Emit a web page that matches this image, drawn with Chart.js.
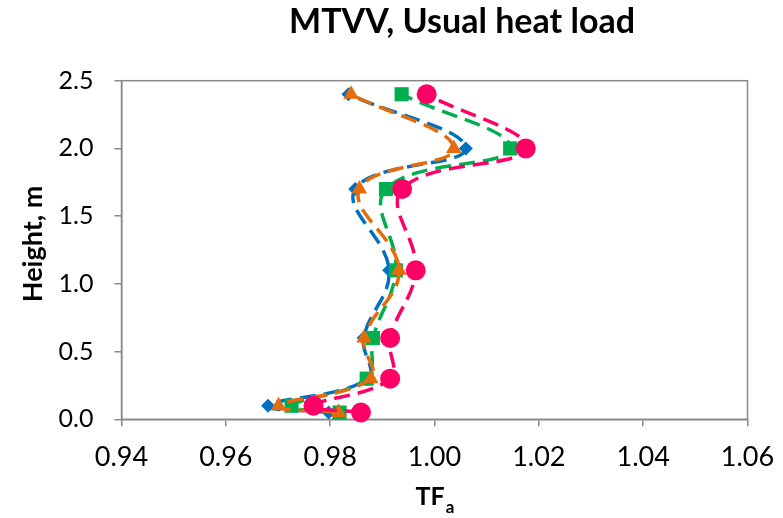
<!DOCTYPE html>
<html>
<head>
<meta charset="utf-8">
<script src="https://cdn.jsdelivr.net/npm/chart.js@4.4.1/dist/chart.umd.min.js"></script>
<style>
  html, body { margin: 0; padding: 0; background: #fff; }
  #wrap { width: 783px; height: 518px; }
</style>
</head>
<body>
<div id="wrap"><canvas id="chart" width="783" height="518"></canvas></div>
<script>
// measuring heights, m
const heights = [0.05, 0.1, 0.3, 0.6, 1.1, 1.7, 2.0, 2.4];

// TF_a profiles, one per case
const tfCase1 = [0.9797, 0.9681, 0.9872, 0.9864, 0.9913, 0.9848, 1.0060, 0.9835];
const tfCase2 = [0.9816, 0.9701, 0.9878, 0.9865, 0.9932, 0.9856, 1.0037, 0.9840];
const tfCase3 = [0.9818, 0.9726, 0.9870, 0.9882, 0.9926, 0.9907, 1.0145, 0.9937];
const tfCase4 = [0.9859, 0.9768, 0.9915, 0.9915, 0.9964, 0.9938, 1.0175, 0.9985];

const xTicks = [0.94, 0.96, 0.98, 1.00, 1.02, 1.04, 1.06];
const yTicks = [0.0, 0.5, 1.0, 1.5, 2.0, 2.5];

const chartTitle = 'MTVV, Usual heat load';
const xTitle = 'TF';
const xTitleSub = 'a';
const yTitle = 'Height, m';

const FONT = 'Lato, "Open Sans", sans-serif';
const AXIS_GREY = '#898989';

function profile(label, xs, color, style, radius, order) {
  return {
    label: label,
    data: xs.map((x, i) => ({ x: x, y: heights[i] })),
    showLine: true,
    borderColor: color,
    backgroundColor: color,
    borderWidth: 3.5,
    borderDash: [16, 8],
    tension: 0.4,
    pointStyle: style,
    pointRadius: radius,
    pointBorderWidth: 0,
    pointBackgroundColor: color,
    clip: false,
    order: order
  };
}

// frame round the plot area and the hand-set titles
const decorations = {
  id: 'decorations',
  beforeDatasetsDraw(chart) {
    const { ctx, chartArea: a } = chart;
    ctx.save();
    ctx.strokeStyle = AXIS_GREY;
    ctx.lineWidth = 1.5;
    ctx.strokeRect(a.left, a.top, a.right - a.left, a.bottom - a.top);
    ctx.restore();
  },
  afterDraw(chart) {
    const { ctx, chartArea: a } = chart;
    ctx.save();
    ctx.fillStyle = '#000';
    ctx.textBaseline = 'alphabetic';

    ctx.font = 'bold 34px ' + FONT;
    ctx.textAlign = 'center';
    ctx.fillText(chartTitle, 462, 33);

    // x title with subscript
    ctx.font = 'bold 25px ' + FONT;
    const wMain = ctx.measureText(xTitle).width;
    ctx.font = 'bold 17px ' + FONT;
    const wSub = ctx.measureText(xTitleSub).width;
    const x0 = (a.left + a.right) / 2 - (wMain + wSub) / 2;
    ctx.textAlign = 'left';
    ctx.font = 'bold 25px ' + FONT;
    ctx.fillText(xTitle, x0, 505);
    ctx.font = 'bold 17px ' + FONT;
    ctx.fillText(xTitleSub, x0 + wMain + 1, 513);

    // y title
    ctx.translate(42, (a.top + a.bottom) / 2 - 6);
    ctx.rotate(-Math.PI / 2);
    ctx.textAlign = 'center';
    ctx.font = 'bold 27px ' + FONT;
    ctx.fillText(yTitle, 0, 0);
    ctx.restore();
  }
};

new Chart(document.getElementById('chart'), {
  type: 'scatter',
  data: {
    datasets: [
      profile('Case 1', tfCase1, '#0070C0', 'rectRot', 7, 3),
      profile('Case 2', tfCase2, '#E46C0A', 'triangle', 9, 1),
      profile('Case 3', tfCase3, '#00B050', 'rect', 10, 2),
      profile('Case 4', tfCase4, '#FF0066', 'circle', 10, 0)
    ]
  },
  options: {
    responsive: false,
    animation: false,
    layout: { padding: { top: 80.7, right: 35.5, left: 0, bottom: 0 } },
    plugins: {
      legend: { display: false },
      title: { display: false },
      tooltip: { enabled: false }
    },
    scales: {
      x: {
        type: 'linear',
        min: xTicks[0],
        max: xTicks[xTicks.length - 1],
        afterBuildTicks: (s) => { s.ticks = xTicks.map(v => ({ value: v })); },
        afterFit: (s) => {
          s.height = 98.7;
          s.paddingLeft = 0;
          s.paddingRight = 0;
        },
        ticks: {
          font: { family: FONT, size: 27 },
          color: '#000',
          padding: 15,
          maxRotation: 0,
          callback: (v) => Number(v).toFixed(2)
        },
        grid: { drawOnChartArea: false, tickLength: 7, color: AXIS_GREY, lineWidth: 1.5 },
        border: { color: AXIS_GREY, width: 1.5 }
      },
      y: {
        type: 'linear',
        min: yTicks[0],
        max: yTicks[yTicks.length - 1],
        afterBuildTicks: (s) => { s.ticks = yTicks.map(v => ({ value: v })); },
        afterFit: (s) => {
          s.width = 121.5;
          s.paddingTop = 0;
          s.paddingBottom = 0;
        },
        ticks: {
          font: { family: FONT, size: 25 },
          color: '#000',
          padding: 21,
          callback: (v) => Number(v).toFixed(1)
        },
        grid: { drawOnChartArea: false, tickLength: 7, color: AXIS_GREY, lineWidth: 1.5 },
        border: { color: AXIS_GREY, width: 1.5 }
      }
    }
  },
  plugins: [decorations]
});
</script>
</body>
</html>
